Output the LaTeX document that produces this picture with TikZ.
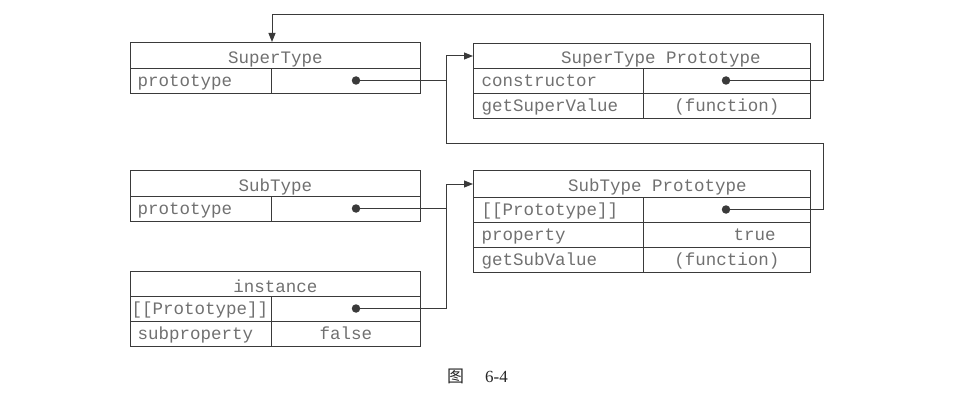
\documentclass[tikz,border=0pt]{standalone}
\usepackage{fontspec}
\setmainfont{Liberation Serif}
\setmonofont{Liberation Mono}
\newfontfamily\cjk{Noto Sans CJK SC}
\usetikzlibrary{arrows.meta}
\definecolor{ln}{HTML}{3A3A3A}
\definecolor{tx}{HTML}{707070}
\begin{document}
\begin{tikzpicture}[x=1pt,y=-1pt,
  cell/.style={draw=ln, line width=1pt, rectangle, anchor=north west, inner sep=0pt,
    minimum height=25pt, font=\ttfamily\fontsize{17.5}{18}\selectfont, text=tx,
    text height=12pt, text depth=1pt},
  hcell/.style={cell, text height=17pt, text depth=1pt},
  htext/.style={inner sep=0pt, font=\ttfamily\fontsize{17.5}{18}\selectfont, text=tx,
    text height=17pt, text depth=1pt},
  lname/.style={cell, minimum width=141pt, text width=127pt, inner xsep=7pt, align=left},
  lval/.style={cell, minimum width=149pt, align=center},
  rname/.style={cell, minimum width=170pt, text width=154pt, inner xsep=8pt, align=left},
  rval/.style={cell, minimum width=167pt, align=center},
  dot/.style={circle, fill=ln, inner sep=0pt, minimum size=8.5pt},
  wire/.style={draw=ln, line width=1pt},
  arr/.style={wire, -{Triangle[length=9pt,width=7pt]}},
  caption/.style={inner sep=0pt, text=black!85, font=\fontsize{17}{18}\selectfont}
]
\useasboundingbox (0,0) rectangle (972,401);

% SuperType
\node[hcell, minimum width=290pt, minimum height=26pt] (sth) at (130,42) {SuperType};
\node[lname] (stname) at (130,68) {prototype};
\node[lval] (stval) at (271,68) {};
\node[dot] (stdot) at (356,80.5) {};

% SuperType Prototype
\node[cell, minimum width=337pt, minimum height=25pt] (spph) at (473,43) {};
\node[htext] (sphT) at (661,55.5) {SuperType Prototype};
\node[rname] (spn1) at (473,68) {constructor};
\node[rval] (spv1) at (643,68) {};
\node[dot] (ctordot) at (726,80.5) {};
\node[rname] (spn2) at (473,93) {getSuperValue};
\node[rval] (spv2) at (643,93) {(function)};

% SubType
\node[hcell, minimum width=290pt, minimum height=26pt] (sbh) at (130,170) {SubType};
\node[lname] (sbname) at (130,196) {prototype};
\node[lval] (sbval) at (271,196) {};
\node[dot] (sbdot) at (356,208.5) {};

% instance
\node[hcell, minimum width=290pt, minimum height=25pt] (inh) at (130,271) {instance};
\node[lname, inner xsep=1pt, text width=139pt] (inname) at (130,296) {[[Prototype]]};
\node[lval] (inval) at (271,296) {};
\node[dot] (indot) at (356,308.5) {};
\node[lname] (inname2) at (130,321) {subproperty};
\node[lval] (inval2) at (271,321) {false};

% SubType Prototype
\node[cell, minimum width=337pt, minimum height=27pt] (sbph) at (473,170) {};
\node[htext] (sbpT) at (657.5,183.5) {SubType Prototype};
\node[rname] (sbn1) at (473,197) {[[Prototype]]};
\node[rval] (sbv1) at (643,197) {};
\node[dot] (protodot) at (726,209.5) {};
\node[rname] (sbn2) at (473,222) {property};
\node[rval, text width=97pt, inner xsep=35pt, align=right] (sbv2) at (643,222) {true};
\node[rname] (sbn3) at (473,247) {getSubValue};
\node[rval] (sbv3) at (643,247) {(function)};

% routing coordinates
\coordinate (bus) at (446,0);
\coordinate (rbus) at (823,0);
\coordinate (topy) at (0,15);
\coordinate (midy) at (0,144);

% connectors
\draw[arr] (stdot.center) -- (stdot -| bus) |- (spph.west);
\draw[arr] (ctordot.center) -- (ctordot -| rbus) -- (rbus |- topy) -| (sth.north -| stname.east);
\draw[wire] (protodot.center) -- (protodot -| rbus) -- (rbus |- midy) -- (bus |- midy) -- (stdot -| bus);
\draw[arr] (sbdot.center) -- (sbdot -| bus) |- (sbph.west);
\draw[wire] (indot.center) -- (indot -| bus) -- (sbdot -| bus);

% caption
\node[caption] (cap) at (477.5,376) {{\cjk 图}\hspace{21pt}6-4};
\end{tikzpicture}
\end{document}
